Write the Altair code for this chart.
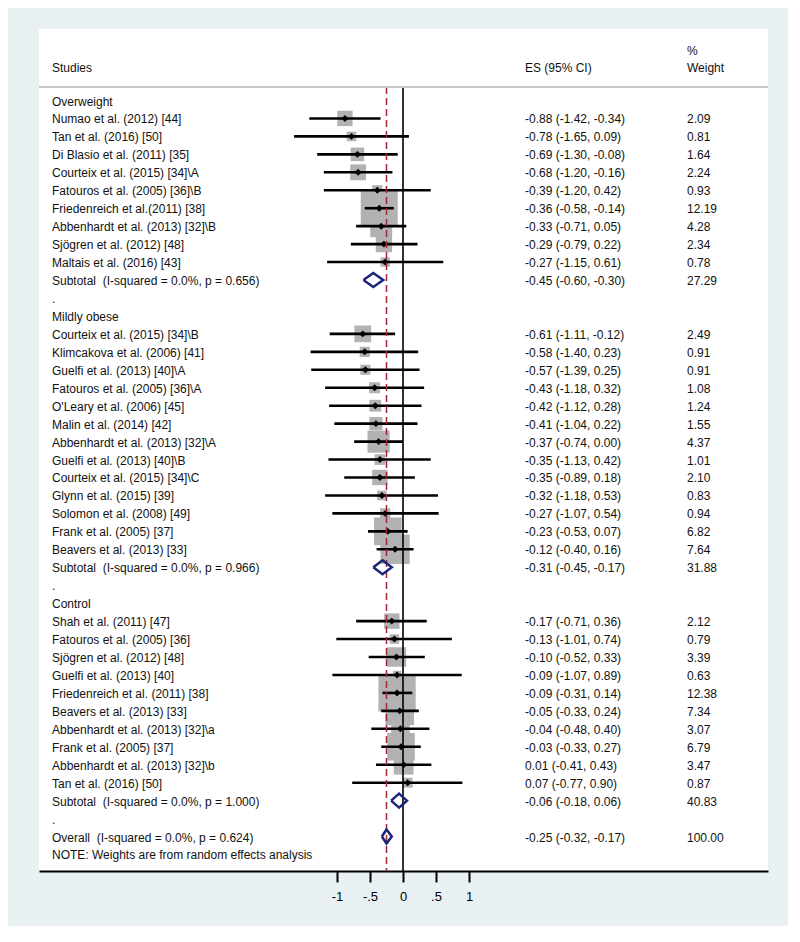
import altair as alt
import pandas as pd

# ---------------- data ----------------
ow_studies = ["Numao et al. (2012) [44]", "Tan et al. (2016) [50]", "Di Blasio et al. (2011) [35]",
              "Courteix et al. (2015) [34]\\A", "Fatouros et al. (2005) [36]\\B", "Friedenreich et al.(2011) [38]",
              "Abbenhardt et al. (2013) [32]\\B", "Sjögren et al. (2012) [48]", "Maltais et al. (2016) [43]"]
ow_es = [-0.88, -0.78, -0.69, -0.68, -0.39, -0.36, -0.33, -0.29, -0.27]
ow_lo = [-1.42, -1.65, -1.30, -1.20, -1.20, -0.58, -0.71, -0.79, -1.15]
ow_hi = [-0.34, 0.09, -0.08, -0.16, 0.42, -0.14, 0.05, 0.22, 0.61]
ow_w = [2.09, 0.81, 1.64, 2.24, 0.93, 12.19, 4.28, 2.34, 0.78]

mo_studies = ["Courteix et al. (2015) [34]\\B", "Klimcakova et al. (2006) [41]", "Guelfi et al. (2013) [40]\\A",
              "Fatouros et al. (2005) [36]\\A", "O'Leary et al. (2006) [45]", "Malin et al. (2014) [42]",
              "Abbenhardt et al. (2013) [32]\\A", "Guelfi et al. (2013) [40]\\B", "Courteix et al. (2015) [34]\\C",
              "Glynn et al. (2015) [39]", "Solomon et al. (2008) [49]", "Frank et al. (2005) [37]",
              "Beavers et al. (2013) [33]"]
mo_es = [-0.61, -0.58, -0.57, -0.43, -0.42, -0.41, -0.37, -0.35, -0.35, -0.32, -0.27, -0.23, -0.12]
mo_lo = [-1.11, -1.40, -1.39, -1.18, -1.12, -1.04, -0.74, -1.13, -0.89, -1.18, -1.07, -0.53, -0.40]
mo_hi = [-0.12, 0.23, 0.25, 0.32, 0.28, 0.22, 0.00, 0.42, 0.18, 0.53, 0.54, 0.07, 0.16]
mo_w = [2.49, 0.91, 0.91, 1.08, 1.24, 1.55, 4.37, 1.01, 2.10, 0.83, 0.94, 6.82, 7.64]

co_studies = ["Shah et al. (2011) [47]", "Fatouros et al. (2005) [36]", "Sjögren et al. (2012) [48]",
              "Guelfi et al. (2013) [40]", "Friedenreich et al. (2011) [38]", "Beavers et al. (2013) [33]",
              "Abbenhardt et al. (2013) [32]\\a", "Frank et al. (2005) [37]", "Abbenhardt et al. (2013) [32]\\b",
              "Tan et al. (2016) [50]"]
co_es = [-0.17, -0.13, -0.10, -0.09, -0.09, -0.05, -0.04, -0.03, 0.01, 0.07]
co_lo = [-0.71, -1.01, -0.52, -1.07, -0.31, -0.33, -0.48, -0.33, -0.41, -0.77]
co_hi = [0.36, 0.74, 0.33, 0.89, 0.14, 0.24, 0.40, 0.27, 0.43, 0.90]
co_w = [2.12, 0.79, 3.39, 0.63, 12.38, 7.34, 3.07, 6.79, 3.47, 0.87]

group_names = ["Overweight", "Mildly obese", "Control"]
NB = "\u00a0"
sub_labels = ["Subtotal " + NB + "(I-squared = 0.0%, p = 0.656)",
              "Subtotal " + NB + "(I-squared = 0.0%, p = 0.966)",
              "Subtotal " + NB + "(I-squared = 0.0%, p = 1.000)"]
sub_es = [-0.45, -0.31, -0.06]
sub_lo = [-0.60, -0.45, -0.18]
sub_hi = [-0.30, -0.17, 0.06]
sub_w = [27.29, 31.88, 40.83]

overall_label = "Overall " + NB + "(I-squared = 0.0%, p = 0.624)"
overall_es, overall_lo, overall_hi, overall_w = -0.25, -0.32, -0.17, 100.00
note_text = "NOTE: Weights are from random effects analysis"

x_ticks = [-1, -0.5, 0, 0.5, 1]

# ---------------- build table ----------------
groups = [
    (ow_studies, ow_es, ow_lo, ow_hi, ow_w),
    (mo_studies, mo_es, mo_lo, mo_hi, mo_w),
    (co_studies, co_es, co_lo, co_hi, co_w),
]

rows = []
r = 0
for gi, (names, es, lo, hi, w) in enumerate(groups):
    rows.append(dict(row=r, label=group_names[gi], kind="group"))
    r += 1
    for n, e, l, h, ww in zip(names, es, lo, hi, w):
        rows.append(dict(row=r, label=n, kind="study", es=e, lo=l, hi=h, w=ww))
        r += 1
    rows.append(dict(row=r, label=sub_labels[gi], kind="sub", es=sub_es[gi], lo=sub_lo[gi],
                     hi=sub_hi[gi], w=sub_w[gi]))
    r += 1
    rows.append(dict(row=r, label=".", kind="dot"))
    r += 1
rows.append(dict(row=r, label=overall_label, kind="overall", es=overall_es, lo=overall_lo,
                 hi=overall_hi, w=overall_w))
r += 1
rows.append(dict(row=r, label=note_text, kind="note"))

df = pd.DataFrame(rows)


def fmt_es(rw):
    if pd.isna(rw.get("es")):
        return ""
    return f"{rw['es']:.2f} ({rw['lo']:.2f}, {rw['hi']:.2f})"


def fmt_w(rw):
    if pd.isna(rw.get("w")):
        return ""
    return f"{rw['w']:.2f}"


df["es_text"] = df.apply(fmt_es, axis=1)
df["w_text"] = df.apply(fmt_w, axis=1)

studies = df[df.kind == "study"]

# diamond outlines for pooled estimates
HALF = 0.39
dia = []
for i, rw in df[df.kind.isin(["sub", "overall"])].iterrows():
    pts = [(rw.lo, rw.row), (rw.es, rw.row - HALF), (rw.hi, rw.row), (rw.es, rw.row + HALF), (rw.lo, rw.row)]
    for k, (xx, yy) in enumerate(pts):
        dia.append(dict(id=i, ord=k, x=xx, y=yy))
dia = pd.DataFrame(dia)

# ---------------- layout ----------------
W, H = 729, 842
ROW_TOP, ROW_BOTTOM = -3.983, 42.92
HEADER_LINE = -0.75
FONT = "Liberation Sans, Arial, Helvetica, sans-serif"
FS = 12

xs = alt.Scale(domain=[-5.515, 5.53], nice=False, zero=False)
ys = alt.Scale(domain=[ROW_TOP, ROW_BOTTOM], reverse=True, nice=False, zero=False)

X_LABEL, X_ES, X_W = 13, 486, 648

xaxis = alt.Axis(values=x_ticks, grid=False, title=None,
                 labelExpr="datum.value == -0.5 ? '-.5' : datum.value == 0.5 ? '.5' : '' + datum.value",
                 domainColor="black", domainWidth=2, tickColor="black", tickWidth=2, tickSize=11,
                 labelFont=FONT, labelFontSize=13, labelColor="black", labelPadding=8, labelFlush=False)

base = alt.Chart(df)

squares = alt.Chart(studies).mark_square(color="#b2b2b2", opacity=1).encode(
    x=alt.X("es:Q", scale=xs, axis=xaxis),
    y=alt.Y("row:Q", scale=ys, axis=None),
    size=alt.Size("w:Q", scale=alt.Scale(type="linear", domain=[0, 12.38], range=[0, 1390]), legend=None),
)

ci = alt.Chart(studies).mark_rule(color="black", strokeWidth=2.6).encode(
    x=alt.X("lo:Q", scale=xs), x2="hi:Q", y=alt.Y("row:Q", scale=ys)
)

pts = alt.Chart(studies).mark_point(shape="diamond", filled=True, color="black", size=48, opacity=1).encode(
    x=alt.X("es:Q", scale=xs), y=alt.Y("row:Q", scale=ys)
)

diamonds = alt.Chart(dia).mark_line(color="#1c2577", strokeWidth=2.5).encode(
    x=alt.X("x:Q", scale=xs), y=alt.Y("y:Q", scale=ys), detail="id:N", order="ord:Q"
)

zero_line = alt.Chart(df).mark_rule(color="black", strokeWidth=1.6).encode(
    x=alt.datum(0, scale=xs), y=alt.datum(HEADER_LINE, scale=ys), y2=alt.datum(ROW_BOTTOM)
).transform_filter("datum.kind == 'overall'")

overall_line = alt.Chart(df[df.kind == "overall"]).mark_rule(color="#9e2838", strokeWidth=1.5,
                                                             strokeDash=[7, 4]).encode(
    x=alt.X("es:Q", scale=xs), y=alt.datum(HEADER_LINE, scale=ys), y2=alt.datum(ROW_BOTTOM)
)

header_rule = alt.Chart(df[df.kind == "overall"]).mark_rule(color="#c8c8c8", strokeWidth=2).encode(
    x=alt.value(0), x2=alt.value(W), y=alt.datum(HEADER_LINE, scale=ys)
)

txt_kw = dict(align="left", baseline="middle", font=FONT, fontSize=FS, color="#111111", dy=1)

labels = base.mark_text(**txt_kw).encode(
    x=alt.value(X_LABEL), y=alt.Y("row:Q", scale=ys), text="label:N"
)
es_txt = base.mark_text(**txt_kw).encode(
    x=alt.value(X_ES), y=alt.Y("row:Q", scale=ys), text="es_text:N"
)
w_txt = base.mark_text(**txt_kw).encode(
    x=alt.value(X_W), y=alt.Y("row:Q", scale=ys), text="w_text:N"
)

header_df = pd.DataFrame([
    dict(text="Studies", col="label", row=-1.87),
    dict(text="ES (95% CI)", col="es", row=-1.87),
    dict(text="%", col="w", row=-2.81),
    dict(text="Weight", col="w", row=-1.87),
])
header_df["px"] = header_df.col.map({"label": X_LABEL, "es": X_ES, "w": X_W})
headers = alt.Chart(header_df).mark_text(**txt_kw).encode(
    x=alt.X("px:Q", scale=None), y=alt.Y("row:Q", scale=ys), text="text:N"
)

chart = alt.layer(
    squares, ci, pts, zero_line, overall_line, diamonds, header_rule, labels, es_txt, w_txt, headers
).properties(
    width=W, height=H,
    padding={"left": 31, "top": 21, "right": 20, "bottom": 55},
    autosize=alt.AutoSizeParams(type="none"),
    background="#e8f0f2",
).configure_view(fill="white", stroke=None)

chart.save("out.html", embed_options={"renderer": "svg", "actions": False})
